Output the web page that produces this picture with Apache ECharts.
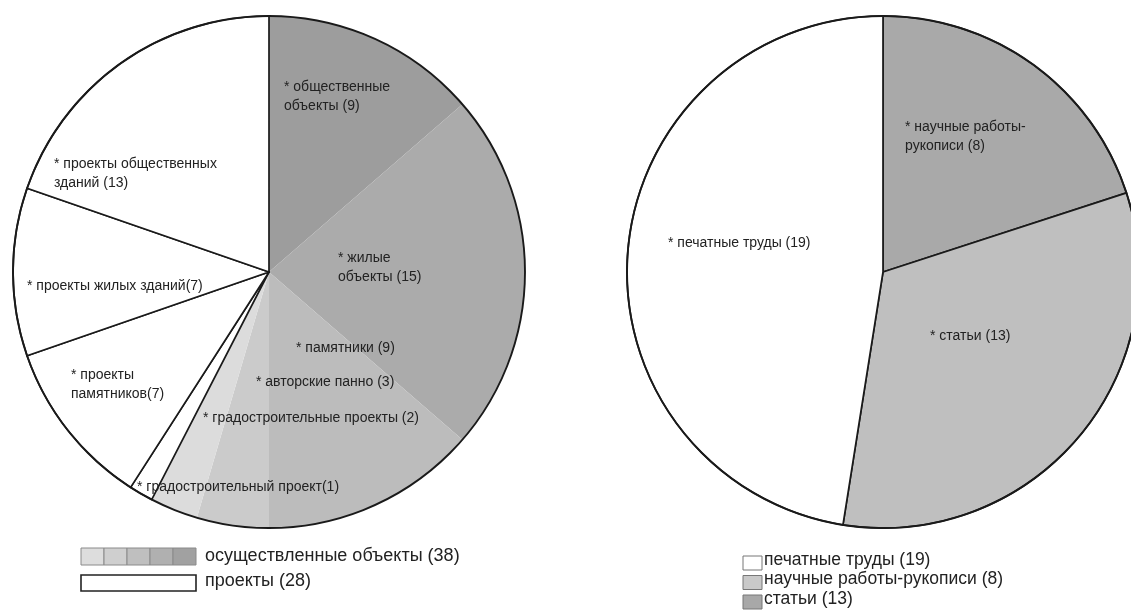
<!DOCTYPE html>
<html>
<head>
<meta charset="utf-8">
<script src="https://cdn.jsdelivr.net/npm/echarts@6/dist/echarts.min.js"></script>
<style>
  html, body { margin: 0; padding: 0; background: #fff; }
  #chart { width: 1131px; height: 612px; }
</style>
</head>
<body>
<div id="chart"></div>
<script>
// Left pie: completed works (grey) and projects (white)
const leftNames = [
  '* общественные\nобъекты (9)',
  '* жилые\nобъекты (15)',
  '* памятники (9)',
  '* авторские панно (3)',
  '* градостроительные проекты (2)',
  '* градостроительный проект(1)',
  '* проекты\nпамятников(7)',
  '* проекты жилых зданий(7)',
  '* проекты общественных\nзданий (13)'
];
const leftValues = [9, 15, 9, 3, 2, 1, 7, 7, 13];
const leftColors = ['#9d9d9d', '#ababab', '#bcbcbc', '#cbcbcb', '#dcdcdc',
                    '#ffffff', '#ffffff', '#ffffff', '#ffffff'];
const leftIsProject = [false, false, false, false, false, true, true, true, true];

// Right pie: scientific output
const rightNames = [
  '* научные работы-\nрукописи (8)',
  '* статьи (13)',
  '* печатные труды (19)'
];
const rightValues = [8, 13, 19];
const rightColors = ['#a9a9a9', '#bfbfbf', '#ffffff'];

// Legend entries
const leftLegendTexts = ['осуществленные объекты (38)', 'проекты (28)'];
const leftLegendSwatches = ['#dddddd', '#cfcfcf', '#bfbfbf', '#b0b0b0', '#a1a1a1'];
const rightLegendTexts = ['печатные труды (19)', 'научные работы-рукописи (8)', 'статьи (13)'];
const rightLegendSwatches = ['#ffffff', '#c9c9c9', '#a8a8a8'];

// Label anchor points (top-left of each text block)
const leftLabelPos = [
  [284, 78], [338, 249], [296, 339], [256, 373], [203, 409],
  [137, 478], [71, 366], [27, 277], [54, 155]
];
const rightLabelPos = [[905, 118], [930, 327], [668, 234]];

const FONT = '"Liberation Sans", Arial, sans-serif';

const chart = echarts.init(document.getElementById('chart'), null, { renderer: 'canvas' });

function pieSeries(names, values, colors, center, labelPos, bordered) {
  return {
    type: 'pie',
    center: center,
    radius: 256,
    startAngle: 90,
    clockwise: true,
    avoidLabelOverlap: false,
    silent: true,
    animation: false,
    label: {
      show: true,
      position: 'inside',
      fontFamily: FONT,
      fontSize: 14,
      lineHeight: 19,
      color: '#222'
    },
    labelLine: { show: false },
    labelLayout: function (p) {
      const pos = labelPos[p.dataIndex];
      return { x: pos[0], y: pos[1], align: 'left', verticalAlign: 'top' };
    },
    data: names.map((n, i) => ({
      name: n,
      value: values[i],
      itemStyle: {
        color: colors[i],
        borderColor: bordered[i] ? '#1a1a1a' : colors[i],
        borderWidth: bordered[i] ? 1.7 : 0
      }
    })),
    z: 2
  };
}

function outline(center) {
  return {
    type: 'pie',
    center: center,
    radius: 256,
    silent: true,
    animation: false,
    label: { show: false },
    labelLine: { show: false },
    data: [{ value: 1, name: '', itemStyle: { color: 'none', borderColor: '#1a1a1a', borderWidth: 1.9 } }],
    z: 3
  };
}

const graphics = [];
// left legend: strip of grey swatches
leftLegendSwatches.forEach((c, i) => {
  graphics.push({
    type: 'rect',
    shape: { x: 81 + i * 23, y: 548, width: 23, height: 17 },
    style: { fill: c, stroke: '#8a8a8a', lineWidth: 1 }
  });
});
graphics.push({
  type: 'rect',
  shape: { x: 81, y: 575, width: 115, height: 16 },
  style: { fill: '#ffffff', stroke: '#222', lineWidth: 1.6 }
});
leftLegendTexts.forEach((t, i) => {
  graphics.push({
    type: 'text',
    style: { text: t, x: 205, y: 556 + i * 25, fill: '#222', font: '18px ' + FONT, textVerticalAlign: 'middle' }
  });
});
// right legend
rightLegendTexts.forEach((t, i) => {
  graphics.push({
    type: 'rect',
    shape: { x: 743, y: 556 + i * 19.5, width: 19, height: 14 },
    style: { fill: rightLegendSwatches[i], stroke: '#777', lineWidth: 1 }
  });
  graphics.push({
    type: 'text',
    style: { text: t, x: 764, y: 560 + i * 19.5, fill: '#222', font: '17.5px ' + FONT, textVerticalAlign: 'middle' }
  });
});

chart.setOption({
  backgroundColor: '#ffffff',
  animation: false,
  series: [
    pieSeries(leftNames, leftValues, leftColors, [269, 272], leftLabelPos, leftIsProject),
    outline([269, 272]),
    pieSeries(rightNames, rightValues, rightColors, [883, 272], rightLabelPos, [true, true, true]),
    outline([883, 272])
  ],
  graphic: graphics
});
</script>
</body>
</html>
